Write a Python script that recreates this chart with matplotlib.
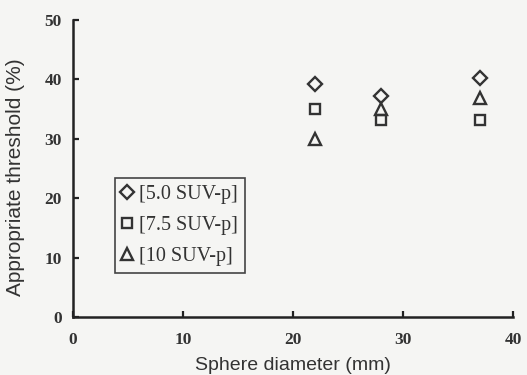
import matplotlib
matplotlib.use("Agg")
import matplotlib.pyplot as plt

diameters = [22, 28, 37]
thr_5_0 = [39.3, 37.2, 40.3]
thr_7_5 = [35.1, 33.2, 33.2]
thr_10 = [30.0, 35.0, 36.8]
labels = ["[5.0 SUV-p]", "[7.5 SUV-p]", "[10 SUV-p]"]

bg = "#f5f5f3"
fig = plt.figure(figsize=(5.27, 3.75), dpi=100, facecolor=bg)
ax = fig.add_axes([73/527, 58/375, 440/527, 297/375], facecolor=bg)

mk = dict(linestyle="none", markerfacecolor="none", markeredgecolor="#333333", markeredgewidth=1.7)
ax.plot(diameters, thr_5_0, marker="D", markersize=7, label=labels[0], **mk)
ax.plot(diameters, thr_7_5, marker="s", markersize=7.5, label=labels[1], **mk)
ax.plot(diameters, thr_10, marker="^", markersize=8, label=labels[2], **mk)

ax.set_xlim(0, 40)
ax.set_ylim(0, 50)
ax.set_xticks([0, 10, 20, 30, 40])
ax.set_yticks([0, 10, 20, 30, 40, 50])
for s in ["top", "right"]:
    ax.spines[s].set_visible(False)
for s in ["left", "bottom"]:
    ax.spines[s].set_linewidth(1.8)
    ax.spines[s].set_color("#222222")
ax.tick_params(direction="in", length=4, width=1.6, color="#222222")
ax.tick_params(axis="x", pad=11)
ax.tick_params(axis="y", pad=8)
for lab in ax.get_xticklabels() + ax.get_yticklabels():
    lab.set_fontfamily("Liberation Serif")
    lab.set_fontweight("bold")
    lab.set_fontsize(12.5)
    lab.set_color("#333333")

ax.set_xlabel("Sphere diameter (mm)", fontfamily="Liberation Sans", fontsize=14, color="#333333")
ax.xaxis.set_label_coords(0.5, -40/297)
ax.set_ylabel("Appropriate threshold (%)", fontfamily="Liberation Sans", fontsize=15, color="#333333")
ax.yaxis.set_label_coords(-48/440, 0.47)

leg = ax.legend(loc="upper left", bbox_to_anchor=(42/440, 139/297), prop={"family": "Liberation Serif", "size": 14.5},
                frameon=True, fancybox=False, handlelength=0.5, handletextpad=0.35, borderpad=0.35,
                borderaxespad=0, labelspacing=0.58, edgecolor="#444444", facecolor=bg, framealpha=1)
leg.get_frame().set_linewidth(1.2)
for t in leg.get_texts():
    t.set_color("#333333")

fig.savefig("out.png", dpi=100, facecolor=bg)
